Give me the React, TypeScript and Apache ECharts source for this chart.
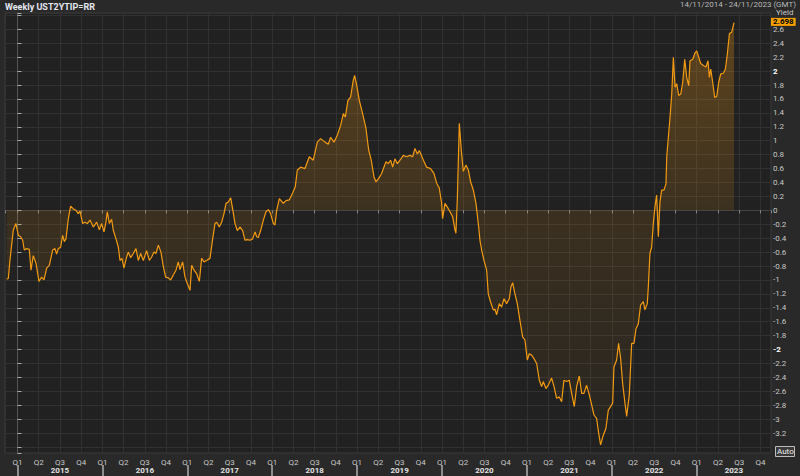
import React, { useEffect, useRef } from "react";
import * as echarts from "echarts";

const years = [
  2014.872, 2014.892, 2014.912, 2014.951, 2014.982, 2015.010, 2015.037, 2015.061, 2015.080, 2015.108,
  2015.139, 2015.159, 2015.186, 2015.218, 2015.253, 2015.285, 2015.312, 2015.344, 2015.375, 2015.414,
  2015.442, 2015.461, 2015.481, 2015.508, 2015.532, 2015.552, 2015.571, 2015.599, 2015.626, 2015.658,
  2015.689, 2015.717, 2015.736, 2015.768, 2015.795, 2015.823, 2015.854, 2015.893, 2015.933, 2015.964,
  2015.991, 2016.019, 2016.042, 2016.058, 2016.082, 2016.109, 2016.129, 2016.160, 2016.188, 2016.207,
  2016.231, 2016.254, 2016.286, 2016.305, 2016.333, 2016.364, 2016.396, 2016.423, 2016.451, 2016.482,
  2016.521, 2016.553, 2016.580, 2016.608, 2016.631, 2016.659, 2016.690, 2016.718, 2016.745, 2016.777,
  2016.804, 2016.836, 2016.867, 2016.894, 2016.914, 2016.945, 2016.973, 2017.000, 2017.032, 2017.052,
  2017.079, 2017.110, 2017.142, 2017.169, 2017.197, 2017.228, 2017.267, 2017.299, 2017.326, 2017.346,
  2017.377, 2017.405, 2017.432, 2017.456, 2017.483, 2017.511, 2017.534, 2017.562, 2017.589, 2017.621,
  2017.652, 2017.680, 2017.707, 2017.739, 2017.770, 2017.798, 2017.817, 2017.837, 2017.864, 2017.896,
  2017.927, 2017.955, 2017.982, 2018.014, 2018.033, 2018.053, 2018.084, 2018.131, 2018.162, 2018.201,
  2018.241, 2018.272, 2018.296, 2018.335, 2018.386, 2018.437, 2018.484, 2018.531, 2018.571, 2018.622,
  2018.661, 2018.688, 2018.728, 2018.767, 2018.806, 2018.838, 2018.861, 2018.892, 2018.924, 2018.955,
  2018.971, 2018.995, 2019.026, 2019.065, 2019.104, 2019.136, 2019.167, 2019.199, 2019.222, 2019.254,
  2019.289, 2019.316, 2019.340, 2019.367, 2019.395, 2019.419, 2019.446, 2019.474, 2019.505, 2019.544,
  2019.583, 2019.623, 2019.654, 2019.682, 2019.709, 2019.733, 2019.764, 2019.788, 2019.819, 2019.866,
  2019.905, 2019.937, 2019.968, 2019.996, 2020.007, 2020.035, 2020.062, 2020.094, 2020.125, 2020.153,
  2020.164, 2020.180, 2020.204, 2020.227, 2020.251, 2020.282, 2020.310, 2020.337, 2020.369, 2020.400,
  2020.432, 2020.447, 2020.467, 2020.494, 2020.526, 2020.545, 2020.573, 2020.604, 2020.624, 2020.643,
  2020.675, 2020.702, 2020.730, 2020.761, 2020.793, 2020.812, 2020.832, 2020.859, 2020.887, 2020.918,
  2020.950, 2020.977, 2021.005, 2021.028, 2021.056, 2021.083, 2021.115, 2021.146, 2021.173, 2021.193,
  2021.224, 2021.252, 2021.291, 2021.319, 2021.350, 2021.381, 2021.409, 2021.436, 2021.468, 2021.499,
  2021.527, 2021.558, 2021.586, 2021.617, 2021.645, 2021.672, 2021.703, 2021.735, 2021.762, 2021.790,
  2021.821, 2021.845, 2021.868, 2021.900, 2021.931, 2021.959, 2021.986, 2022.010, 2022.025, 2022.057,
  2022.080, 2022.104, 2022.127, 2022.155, 2022.175, 2022.206, 2022.234, 2022.261, 2022.285, 2022.312,
  2022.339, 2022.371, 2022.390, 2022.418, 2022.430, 2022.449, 2022.469, 2022.489, 2022.508, 2022.528,
  2022.548, 2022.567, 2022.587, 2022.614, 2022.638, 2022.647, 2022.666, 2022.686, 2022.706, 2022.725,
  2022.745, 2022.764, 2022.788, 2022.812, 2022.835, 2022.859, 2022.882, 2022.906, 2022.921, 2022.953,
  2022.980, 2023.000, 2023.024, 2023.047, 2023.079, 2023.110, 2023.133, 2023.149, 2023.165, 2023.188,
  2023.212, 2023.236, 2023.259, 2023.283, 2023.314, 2023.338, 2023.361, 2023.385, 2023.412, 2023.440,
];

// Real yield values (%)
const values = [
  -0.99, -0.98, -0.71, -0.28, -0.19, -0.36, -0.38, -0.43, -0.57, -0.55,
  -0.56, -0.86, -0.65, -0.76, -1.02, -0.96, -1.00, -0.83, -0.79, -0.57,
  -0.55, -0.63, -0.55, -0.53, -0.36, -0.45, -0.41, -0.12, 0.06, 0.02,
  0.00, -0.05, -0.01, -0.19, -0.17, -0.19, -0.14, -0.24, -0.17, -0.28,
  -0.19, -0.31, -0.17, -0.02, -0.19, -0.13, -0.29, -0.41, -0.53, -0.72,
  -0.69, -0.83, -0.67, -0.60, -0.68, -0.62, -0.55, -0.72, -0.62, -0.72,
  -0.58, -0.72, -0.67, -0.60, -0.62, -0.50, -0.60, -0.81, -0.96, -0.97,
  -1.00, -0.93, -0.86, -0.74, -0.85, -0.74, -0.96, -1.05, -1.15, -0.79,
  -0.86, -0.91, -1.02, -0.69, -0.74, -0.72, -0.69, -0.41, -0.19, -0.17,
  -0.24, -0.17, -0.05, 0.10, 0.12, 0.18, 0.02, -0.19, -0.29, -0.24,
  -0.29, -0.43, -0.42, -0.43, -0.41, -0.31, -0.38, -0.39, -0.29, -0.14,
  -0.02, 0.01, -0.05, -0.19, -0.21, 0.00, 0.17, 0.10, 0.14, 0.15,
  0.25, 0.34, 0.58, 0.62, 0.60, 0.77, 0.72, 0.98, 1.03, 0.98,
  0.95, 1.05, 0.98, 1.08, 1.22, 1.39, 1.34, 1.58, 1.63, 1.87,
  1.94, 1.80, 1.58, 1.39, 1.18, 0.87, 0.72, 0.48, 0.41, 0.46,
  0.53, 0.62, 0.70, 0.67, 0.72, 0.62, 0.74, 0.67, 0.72, 0.79,
  0.77, 0.79, 0.77, 0.89, 0.81, 0.86, 0.77, 0.70, 0.62, 0.60,
  0.53, 0.39, 0.32, 0.10, -0.12, 0.10, 0.05, -0.02, -0.09, -0.28,
  -0.33, 0.14, 1.25, 0.87, 0.56, 0.65, 0.58, 0.41, 0.29, 0.10,
  -0.24, -0.43, -0.57, -0.72, -0.86, -1.20, -1.32, -1.43, -1.42, -1.50,
  -1.34, -1.39, -1.27, -1.34, -1.27, -1.10, -1.04, -1.20, -1.34, -1.58,
  -1.82, -1.86, -2.15, -2.06, -2.08, -2.13, -2.20, -2.44, -2.53, -2.46,
  -2.56, -2.51, -2.41, -2.53, -2.70, -2.68, -2.75, -2.44, -2.46, -2.44,
  -2.63, -2.82, -2.53, -2.38, -2.63, -2.63, -2.51, -2.65, -2.79, -2.94,
  -2.99, -3.20, -3.37, -3.23, -3.13, -2.87, -2.82, -2.77, -2.25, -2.15,
  -1.91, -2.13, -2.48, -2.77, -2.96, -2.65, -1.91, -1.91, -1.70, -1.63,
  -1.36, -1.31, -1.43, -1.34, -1.10, -0.62, -0.53, -0.19, 0.05, 0.22,
  -0.38, 0.12, 0.29, 0.29, 0.38, 0.77, 1.05, 1.34, 1.67, 2.20,
  1.77, 1.82, 1.65, 1.67, 1.84, 2.17, 1.91, 1.79, 2.15, 2.17,
  2.26, 2.29, 2.20, 2.11, 2.08, 2.06, 2.15, 1.91, 2.03, 1.84,
  1.62, 1.64, 1.84, 1.96, 1.97, 2.03, 2.25, 2.54, 2.56, 2.698,
];

const yearLabels = ["2015", "2016", "2017", "2018", "2019", "2020", "2021", "2022", "2023"];
const quarterLabels = ["Q1", "Q2", "Q3", "Q4"];
const titleText = "Weekly UST2YTIP=RR";
const rangeText = "14/11/2014 - 24/11/2023 (GMT)";
const axisName = "Yield";

const START_YEAR = 2015;
const X_MIN_YEAR = 2014.853;
const X_MAX_YEAR = 2023.875;
const Y_MIN = -3.486;
const Y_MAX = 2.835;

const toQ = (y: number) => (y - START_YEAR) * 4;

export default function App() {
  const ref = useRef<HTMLDivElement>(null);

  useEffect(() => {
    if (!ref.current) return;
    const chart = echarts.init(ref.current, undefined, { renderer: "svg" });
    const font = "Roboto, 'DejaVu Sans', sans-serif";
    const data = years.map((y, i) => [toQ(y), values[i]]);
    const last = values[values.length - 1];
    const xMin = toQ(X_MIN_YEAR);
    const xMax = toQ(X_MAX_YEAR);
    const yearTicks = yearLabels.map((_, i) => i * 4);
    const yearLabelPos = yearLabels.map((_, i) => {
      const a = i * 4;
      const b = Math.min(i * 4 + 4, xMax);
      return (a + b) / 2;
    });

    chart.setOption({
      animation: false,
      backgroundColor: "#292929",
      textStyle: { fontFamily: font },
      grid: {
        left: 5,
        right: 29,
        top: 13,
        bottom: 23,
        show: true,
        backgroundColor: "#212121",
        borderColor: "#3a3a3a",
        borderWidth: 1,
      },
      graphic: [
        {
          type: "text",
          left: 5,
          top: 2,
          style: { text: titleText, fill: "#e4e6f0", font: `bold 9px ${font}` },
        },
        {
          type: "text",
          right: 4,
          top: 0,
          style: { text: rangeText, fill: "#b8b8b8", font: `8px ${font}`, lineHeight: 8 },
        },
        {
          type: "text",
          left: 776,
          top: 8.5,
          style: { text: axisName, fill: "#c8c8c8", font: `8px ${font}`, lineHeight: 8 },
        },
        {
          type: "group",
          left: 775,
          top: 446,
          children: [
            {
              type: "rect",
              shape: { x: 0, y: 0, width: 19, height: 10 },
              style: { fill: "#3a3a3a", stroke: "#bdbdbd", lineWidth: 1 },
            },
            {
              type: "text",
              x: 1.5,
              y: 1,
              style: { text: "Auto", fill: "#f0f0f0", font: `8px ${font}` },
            },
          ],
        },
      ],
      xAxis: [
        {
          type: "value",
          min: xMin,
          max: xMax,
          splitNumber: 36,
          position: "bottom",
          axisLine: { show: true, lineStyle: { color: "#444" } },
          axisTick: { show: true, length: 3, lineStyle: { color: "#888" } },
          splitLine: { show: true, lineStyle: { color: "#313131", width: 1 } },
          axisLabel: {
            interval: 0,
            margin: 5,
            color: "#c8c8c8",
            fontSize: 8,
            fontFamily: font,
            formatter: (v: number) => {
              const r = Math.round(v);
              if (Math.abs(v - r) > 1e-6) return "";
              return quarterLabels[((r % 4) + 4) % 4];
            },
          },
        },
        {
          type: "value",
          min: xMin,
          max: xMax,
          position: "bottom",
          offset: 12,
          axisLine: { show: false },
          splitLine: { show: false },
          axisTick: {
            show: true,
            length: 12,
            customValues: yearTicks,
            lineStyle: { color: "#8c8c8c", width: 2 },
          },
          axisLabel: {
            customValues: yearLabelPos,
            margin: 1,
            color: "#e2e2e2",
            fontSize: 8,
            fontWeight: "bold",
            fontFamily: font,
            formatter: (v: number) => yearLabels[Math.floor(v / 4)] ?? "",
          },
        },
      ],
      yAxis: {
        type: "value",
        position: "right",
        min: Y_MIN,
        max: Y_MAX,
        splitNumber: 32,
        axisLine: { show: true, lineStyle: { color: "#555" } },
        axisTick: { show: true, length: 4, lineStyle: { color: "#aaa" } },
        splitLine: { show: true, lineStyle: { color: "#313131", width: 1 } },
        axisLabel: {
          interval: 0,
          margin: 2,
          color: "#c8c8c8",
          fontSize: 8,
          lineHeight: 7,
          fontFamily: font,
          formatter: (v: number) => {
            const r = Math.round(v * 10) / 10;
            if (Math.abs(v - r) > 1e-6) return "";
            if (Math.abs(r - 2.8) < 1e-6 || Math.abs(r + 3.4) < 1e-6) return "";
            const s = String(r === 0 ? 0 : r);
            if (Math.abs(Math.abs(r) - 2) < 1e-6) return `{b|${s}}`;
            return s;
          },
          rich: {
            b: { color: "#ffffff", fontWeight: "bold", fontSize: 8, lineHeight: 7, fontFamily: font },
          },
        },
      },
      series: [
        {
          type: "line",
          data,
          xAxisIndex: 0,
          showSymbol: false,
          symbol: "none",
          lineStyle: { color: "#f29a12", width: 1.2 },
          areaStyle: {
            color: new echarts.graphic.LinearGradient(0, 0, 0, 1, [
              { offset: 0, color: "rgba(255,160,20,0.40)" },
              { offset: 0.45, color: "rgba(255,160,20,0.17)" },
              { offset: 1, color: "rgba(255,160,20,0.04)" },
            ]),
          },
          markLine: {
            silent: true,
            symbol: ["none", "none"],
            lineStyle: { color: "rgba(0,0,0,0)", width: 1, type: "solid" },
            label: {
              show: true,
              position: "end",
              distance: 0,
              offset: [0, -0.5],
              formatter: () => last.toFixed(3),
              backgroundColor: "#f5a000",
              color: "#000",
              fontWeight: "bold",
              fontSize: 8,
              lineHeight: 8,
              fontFamily: font,
              padding: [0, 2, 0, 2],
            },
            data: [{ yAxis: last }],
          },
        },
      ],
    });

    return () => chart.dispose();
  }, []);

  return (
    <div
      ref={ref}
      style={{ position: "fixed", left: 0, top: 0, width: 800, height: 476 }}
    />
  );
}
